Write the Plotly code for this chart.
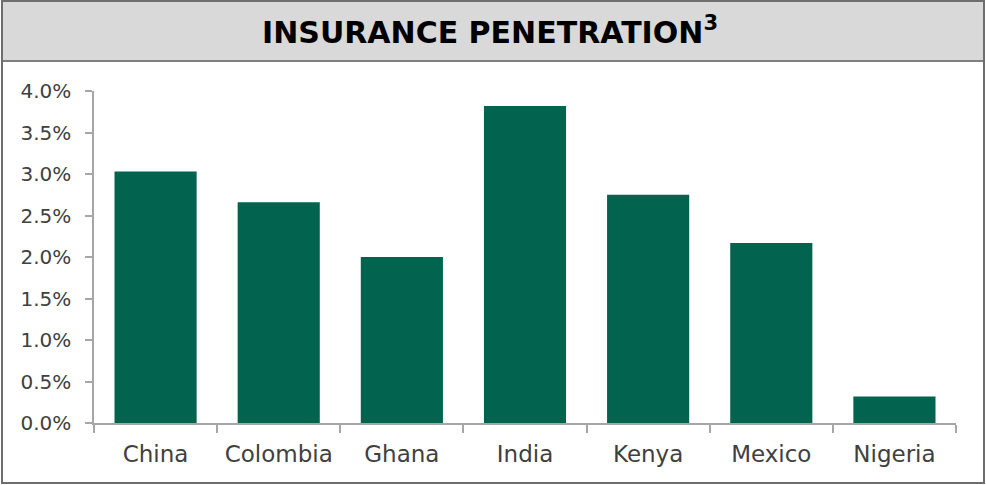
import plotly.graph_objects as go

countries = ["China", "Colombia", "Ghana", "India", "Kenya", "Mexico", "Nigeria"]
penetration = [3.03, 2.66, 2.00, 3.82, 2.75, 2.17, 0.32]  # percent of GDP

W, H = 986, 485
L, R, T, B = 94, 30, 91, 62
pw, ph = W - L - R, H - T - B


def px(x):
    return (x - L) / pw


def py(y):
    return (H - B - y) / ph


fig = go.Figure(
    go.Bar(
        x=countries,
        y=[v / 100 for v in penetration],
        marker=dict(color="#02634F", line=dict(width=0)),
        width=0.667,
    )
)

shapes = [
    # header band
    dict(type="rect", xref="paper", yref="paper", x0=px(2), x1=px(984), y0=py(61), y1=py(1),
         fillcolor="#D9D9D9", line=dict(width=0), layer="below"),
    dict(type="line", xref="paper", yref="paper", x0=px(2), x1=px(984), y0=py(61), y1=py(61),
         line=dict(color="#7F7F7F", width=2)),
    # outer frame
    dict(type="rect", xref="paper", yref="paper", x0=px(2), x1=px(984), y0=py(483), y1=py(1),
         line=dict(color="#6E6E6E", width=2)),
]

fig.update_layout(
    width=W, height=H,
    margin=dict(l=L, r=R, t=T, b=B),
    paper_bgcolor="white", plot_bgcolor="white",
    showlegend=False,
    shapes=shapes,
    annotations=[dict(
        text="<b>INSURANCE PENETRATION<sup>3</sup></b>",
        xref="paper", yref="paper", x=px(490), y=py(31),
        xanchor="center", yanchor="middle", showarrow=False,
        font=dict(family="DejaVu Sans, sans-serif", size=30, color="#000000"),
    )],
    font=dict(family="DejaVu Sans, Century Gothic, sans-serif", color="#404040"),
)

fig.update_yaxes(
    range=[0, 0.04], tickvals=[i * 0.005 for i in range(9)], tickformat=".1%",
    showgrid=False, zeroline=False,
    showline=True, linecolor="#A6A6A6", linewidth=1.5,
    ticks="outside", ticklen=7, tickcolor="#A6A6A6", tickwidth=1.5,
    ticklabelstandoff=10,
    tickfont=dict(size=20, color="#404040"),
)
fig.update_xaxes(
    showgrid=False, showline=True, linecolor="#A6A6A6", linewidth=1.5,
    ticks="outside", ticklen=8, tickcolor="#A6A6A6", tickwidth=1.5,
    tickson="boundaries",
    ticklabelstandoff=10,
    tickfont=dict(size=23, color="#404040"),
)

fig.write_html("out.html")
